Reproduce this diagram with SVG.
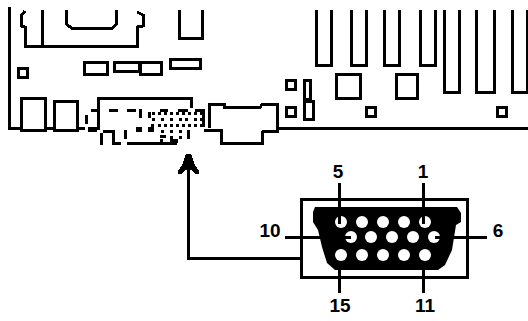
<svg xmlns="http://www.w3.org/2000/svg" width="528" height="321" viewBox="0 0 528 321">
<style>
.l{fill:none;stroke:#000;stroke-width:3;shape-rendering:crispEdges}
.k{fill:#000;shape-rendering:crispEdges}
.h{fill:#fff}
.t{font-family:"Liberation Sans",sans-serif;font-weight:700;font-size:19px;text-anchor:middle;fill:#000}
</style>
<rect width="528" height="321" fill="#fff"/>
<g id="motherboard">
<path class="l" d="M9.5 7V128.5H21M47 128.5H54M77 128.5H85M279 128.5H528"/>
<path class="l" d="M25 11L21.5 15V26L25 27V46H137V27L143 26V15L137 12"/>
<path class="l" d="M42.5 10V46M66.5 10V24L72 28.5H112L116.5 24V10"/>
<path class="l" d="M179.5 10V38H202.5V10"/>
<rect class="l" x="84.5" y="62.5" width="23" height="12"/>
<rect class="l" x="114.5" y="62.5" width="25" height="9"/>
<rect class="l" x="140.5" y="62.5" width="21" height="12"/>
<rect class="l" x="170.5" y="59.5" width="30" height="9"/>
<rect class="l" x="18.5" y="68.5" width="9" height="9"/>
<rect class="l" x="21.5" y="98.5" width="24" height="32"/>
<rect class="l" x="54.5" y="101.5" width="23" height="29"/>
<path class="l" d="M316.5 10V65.5H331.5V10M351.5 10V65.5H366.5V10M384.5 10V65.5H399.5V10M420.5 10V65.5H435.5V10M444.5 10V92.5H459.5V10M476.5 10V92.5H494.5V10M512.5 10V92.5H527.5V10"/>
<rect class="l" x="286.5" y="80.5" width="9" height="9"/>
<rect class="l" x="286.5" y="107.5" width="9" height="9"/>
<rect class="l" x="304.5" y="80.5" width="6" height="19"/>
<rect class="l" x="304.5" y="101.5" width="9" height="18"/>
<rect class="l" x="336.5" y="74.5" width="24" height="24"/>
<rect class="l" x="396.5" y="74.5" width="21" height="24"/>
<rect class="l" x="366.5" y="107.5" width="9" height="9"/>
<rect class="l" x="497.5" y="107.5" width="9" height="9"/>
<path class="l" d="M209.5 128V104.5H224V107.5H260L262 104.5H277.5V131.5H262M262 131V143.5H221.5V130H204"/>
</g>
<g id="vga-socket">
<path class="k" d="M97 97h96v3h-96zM190 100h3v8h-3zM97 100h3v30h-3zM88 127h9v5h-9zM91 109h6v3h-6zM85 115h3v9h-3zM109 109h9v3h-9zM127 109h9v3h-9zM139 109h3v9h-3zM148 112h3v6h-3zM100 133h3v12h-3zM103 130h12v3h-12zM112 133h3v12h-3zM115 142h6v3h-6zM124 130h3v9h-3zM127 142h50v3h-50zM136 127h6v5h-6zM148 127h6v5h-6zM187 130h3v9h-3zM202 109h3v18h-3zM160 109h8v3h-8zM178 109h10v3h-10zM195 109h9v3h-9z"/>
<path class="k" d="M152 112h3v3h-3zM158 112h3v3h-3zM164 112h3v3h-3zM170 112h3v3h-3zM176 112h3v3h-3zM182 112h3v3h-3zM188 112h3v3h-3zM194 112h3v3h-3zM200 112h3v3h-3zM152 118h3v3h-3zM161 118h3v3h-3zM170 118h3v3h-3zM179 118h3v3h-3zM185 118h3v3h-3zM194 118h3v3h-3zM200 118h3v3h-3zM151 124h3v3h-3zM158 124h3v3h-3zM164 124h3v3h-3zM170 124h3v3h-3zM176 124h3v3h-3zM182 124h3v3h-3zM188 124h3v3h-3zM194 124h3v3h-3zM200 124h3v3h-3zM161 130h3v3h-3zM170 130h3v3h-3zM179 130h3v3h-3zM160 135h6v3h-6zM170 136h3v3h-3zM179 136h3v3h-3zM160 139h3v4h-3zM170 139h8v4h-8z"/>
</g>
<g id="connector-diagram">
<rect class="l" x="301.5" y="199.5" width="166" height="78"/>
<path class="k" style="shape-rendering:auto" d="M315 207H457L461 213V222L456 225L452 250L445 265L438 270H335L327 263L322 247L318 230L313 222V212Z"/>
<g class="h">
<circle cx="341" cy="222" r="6"/><circle cx="362" cy="222" r="6"/><circle cx="383" cy="222" r="6"/><circle cx="404" cy="222" r="6"/><circle cx="425" cy="222" r="6"/>
<circle cx="351" cy="237" r="6"/><circle cx="371" cy="237" r="6"/><circle cx="392" cy="237" r="6"/><circle cx="413" cy="237" r="6"/><circle cx="434" cy="237" r="6"/>
<circle cx="341" cy="255" r="6"/><circle cx="362" cy="255" r="6"/><circle cx="383" cy="255" r="6"/><circle cx="404" cy="255" r="6"/><circle cx="425" cy="255" r="6"/>
</g>
</g>
<g id="connectors">
<path class="l" d="M339.5 183V224M423.5 183V224M339.5 270V293M423.5 270V293M285 237.5H351M435 237.5H487"/>
<path class="l" d="M188.5 166V258.5H300"/>
<polygon class="k" points="186,154 191,154 195,165 199,171 199,174 196,174 191,170 186,170 181,174 178,174 178,171 182,165"/>
</g>
<g id="labels">
<text class="t" x="338" y="178">5</text>
<text class="t" x="423" y="178">1</text>
<text class="t" x="270" y="237">10</text>
<text class="t" x="498" y="237">6</text>
<text class="t" x="340" y="312">15</text>
<text class="t" x="425" y="312">11</text>
</g>
</svg>
